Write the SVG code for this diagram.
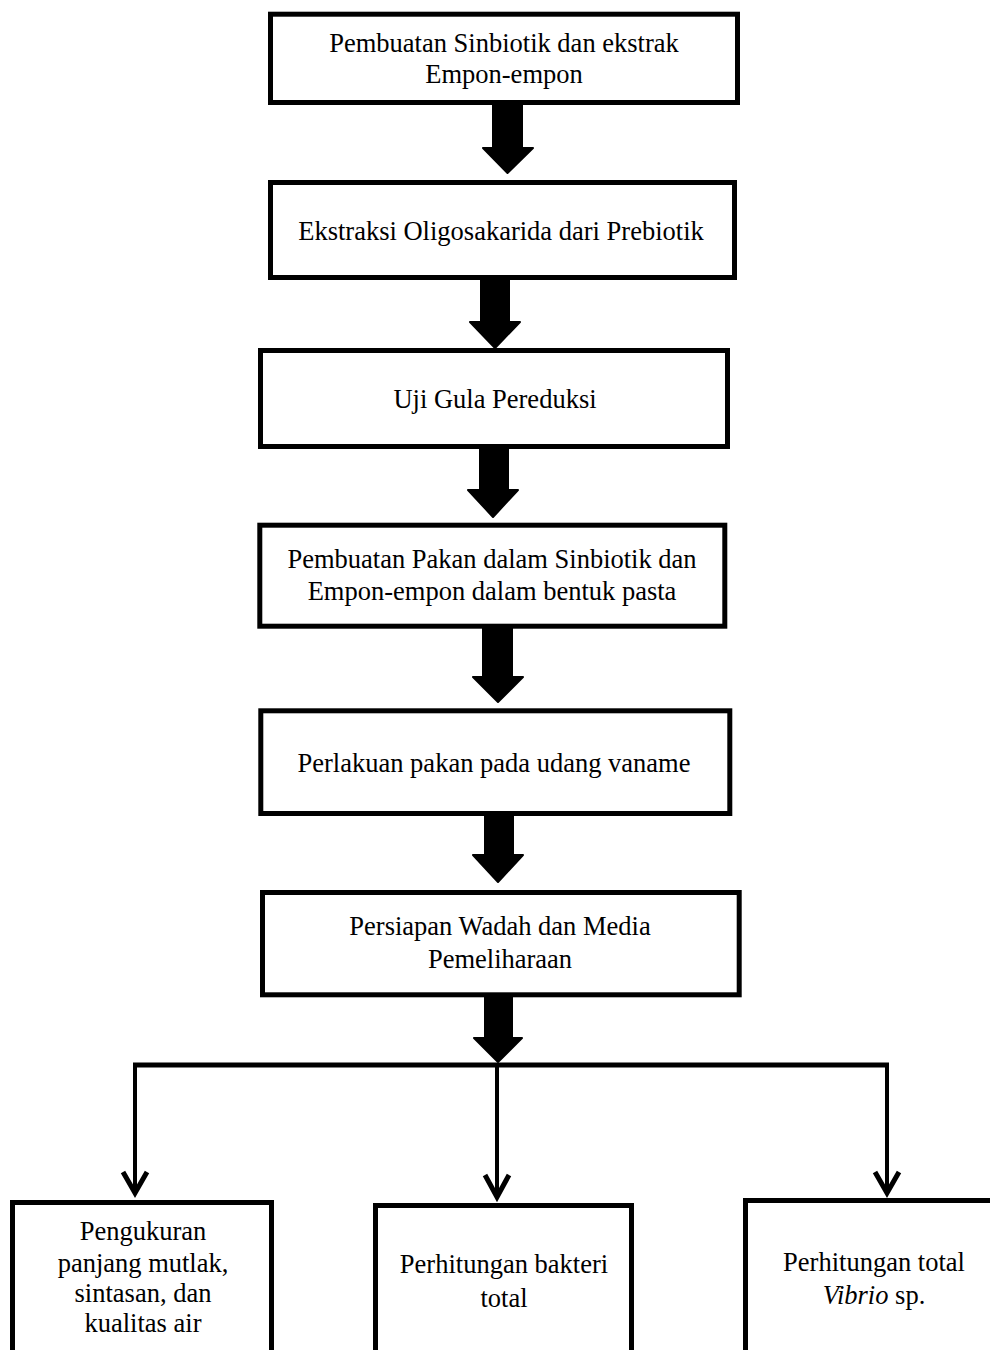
<svg xmlns="http://www.w3.org/2000/svg" width="990" height="1350" viewBox="0 0 990 1350">
<style>
.box{fill:#fff;stroke:#000;stroke-width:5}
.t{font-family:"Liberation Serif","Times New Roman",serif;font-size:26.5px;fill:#000;text-anchor:middle}
.big{fill:#000;stroke:#000;stroke-width:2;stroke-linejoin:round}
.ln{fill:none;stroke:#000;stroke-width:4}
.hd{fill:none;stroke:#000;stroke-width:5;stroke-linejoin:miter;stroke-linecap:butt}
</style>
<rect width="990" height="1350" fill="#fff"/>
<g id="connectors">
<polygon class="big" points="493,103 522,103 522,148 533,148 507.5,173 483,148 493,148"/>
<polygon class="big" points="481,279 509,279 509,322 520,322 495,348 470,322 481,322"/>
<polygon class="big" points="480,448 508,448 508,490 518,490 493,517 468,490 480,490"/>
<polygon class="big" points="483,628 512,628 512,677 523,677 498,702 473,677 483,677"/>
<polygon class="big" points="485,815 513,815 513,855 523,855 498,882 473,855 485,855"/>
<polygon class="big" points="485,997 512,997 512,1038 522,1038 498,1062 474,1038 485,1038"/>
<line x1="133" y1="1065" x2="889" y2="1065" stroke="#000" stroke-width="5"/>
<line class="ln" x1="135" y1="1063" x2="135" y2="1190"/>
<line class="ln" x1="497" y1="1063" x2="497" y2="1194"/>
<line class="ln" x1="887" y1="1063" x2="887" y2="1190"/>
<polyline class="hd" points="123,1172 135,1193 147,1172"/>
<polyline class="hd" points="485,1175 497,1197 509,1175"/>
<polyline class="hd" points="875,1172 887,1193 899,1172"/>
</g>
<g id="n1"><rect class="box" x="270.5" y="14.2" width="467" height="88.3"/>
<text class="t" x="504" y="52">Pembuatan Sinbiotik dan ekstrak</text>
<text class="t" x="504" y="83">Empon-empon</text></g>
<g id="n2"><rect class="box" x="270.5" y="182.5" width="464" height="95"/>
<text class="t" x="501" y="240">Ekstraksi Oligosakarida dari Prebiotik</text></g>
<g id="n3"><rect class="box" x="260.5" y="350.5" width="467" height="96"/>
<text class="t" x="495" y="408">Uji Gula Pereduksi</text></g>
<g id="n4"><rect class="box" x="259.8" y="525.2" width="465" height="101"/>
<text class="t" x="492" y="568">Pembuatan Pakan dalam Sinbiotik dan</text>
<text class="t" x="492" y="600">Empon-empon dalam bentuk pasta</text></g>
<g id="n5"><rect class="box" x="260.8" y="710.8" width="469" height="102.7"/>
<text class="t" x="494" y="772">Perlakuan pakan pada udang vaname</text></g>
<g id="n6"><rect class="box" x="262.5" y="892.5" width="476.7" height="102.3"/>
<text class="t" x="500" y="935">Persiapan Wadah dan Media</text>
<text class="t" x="500" y="968">Pemeliharaan</text></g>
<g id="n7"><rect class="box" x="12.5" y="1202.5" width="259" height="200"/>
<text class="t" x="143" y="1240">Pengukuran</text>
<text class="t" x="143" y="1272">panjang mutlak,</text>
<text class="t" x="143" y="1302">sintasan, dan</text>
<text class="t" x="143" y="1332">kualitas air</text></g>
<g id="n8"><rect class="box" x="375.5" y="1205.5" width="256" height="200"/>
<text class="t" x="504" y="1273">Perhitungan bakteri</text>
<text class="t" x="504" y="1307">total</text></g>
<g id="n9"><rect class="box" x="745.5" y="1200.5" width="260" height="200"/>
<text class="t" x="874" y="1271">Perhitungan total</text>
<text class="t" x="874" y="1304"><tspan font-style="italic">Vibrio</tspan> sp.</text></g>
</svg>
